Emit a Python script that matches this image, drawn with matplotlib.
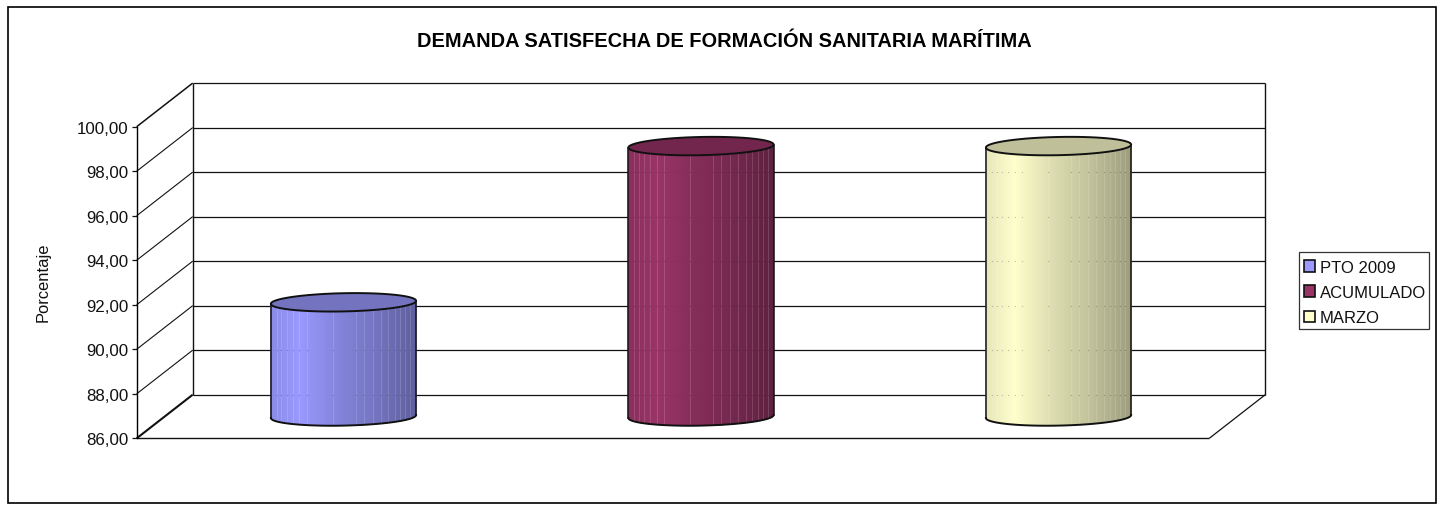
import numpy as np
import matplotlib
matplotlib.use("Agg")
import matplotlib.pyplot as plt
from matplotlib.collections import PolyCollection
from matplotlib.patches import Rectangle, Patch
from matplotlib.transforms import Affine2D

# ---- data ----
series = ["PTO 2009", "ACUMULADO", "MARZO"]
values = [91.13, 98.15, 98.15]
colors = ["#9999FF", "#993366", "#FFFFCC"]
yticks = [86, 88, 90, 92, 94, 96, 98, 100]
title = "DEMANDA SATISFECHA DE FORMACIÓN SANITARIA MARÍTIMA"
ylabel = "Porcentaje"

# ---- style / layout (pixels of the 1443x506 canvas, y from top) ----
W, H = 1443, 506
DPI = 100
FS = 12.2
plt.rcParams["font.family"] = ["Liberation Sans", "DejaVu Sans"]
fig = plt.figure(figsize=(W / DPI, H / DPI), dpi=DPI, facecolor="white")
px = Affine2D().scale(1 / W, -1 / H).translate(0, 1) + fig.transFigure

L, R, T, B = 136.7, 1209.3, 127.7, 439.3
ax = fig.add_axes([L / W, 1 - B / H, (R - L) / W, (B - T) / H])
ax.set_xlim(-0.5, 2.5)
ax.set_ylim(86, 100)
ax.patch.set_visible(False)
for s in ["top", "right", "bottom"]:
    ax.spines[s].set_visible(False)
ax.spines["left"].set_linewidth(1.0)
ax.spines["left"].set_zorder(6)

ppx = (R - L) / 3            # pixels per x unit
ppy = (B - T) / 14           # pixels per y unit
DX, DY = 56 / ppx, 43.6 / ppy  # depth of the 3-D box in data units


def proj(x, y, d=0.0):
    return np.asarray(x) + d * DX, np.asarray(y) + d * DY


def seg(p, q, lw=1.0, z=1):
    ax.plot([p[0], q[0]], [p[1], q[1]], color="#111111", lw=lw, clip_on=False,
            zorder=z, solid_capstyle="butt")


# walls, gridlines
x0, x1 = -0.5, 2.5
for v in yticks:
    seg(proj(x0, v, 1), proj(x1, v, 1), lw=0.9)
    if v != 86:
        seg(proj(x0, v, 0), proj(x0, v, 1), lw=0.8 if v != 100 else 1.1)
seg(proj(x0, 86, 0), proj(x0, 86, 1), lw=1.5)
seg(proj(x0, 86, 1), proj(x0, 100, 1), lw=1.0)
seg(proj(x1, 86, 1), proj(x1, 100, 1), lw=1.0)
seg(proj(x0, 86, 0), proj(x1, 86, 0), lw=1.0)
seg(proj(x1, 86, 0), proj(x1, 86, 1), lw=0.9)

# cylinders
half_w = 72.6 / ppx
half_h = 9.1 / ppy
tilt = 1.5 / ppy
seams = [0.04, 0.073, 0.11, 0.149, 0.197, 0.248, 0.427, 0.583, 0.638,
         0.70, 0.757, 0.81, 0.852, 0.891, 0.925, 0.959]


def shade(t):
    return np.interp(t, [0, 0.2, 0.45, 0.7, 1.0], [0.90, 1.0, 0.87, 0.77, 0.62])


for i, (val, col) in enumerate(zip(values, colors)):
    rgb = np.array(matplotlib.colors.to_rgb(col))
    xc, _ = proj(i, 0, 0.5)
    yb = 86 + 0.5 * DY
    yt = val + 0.5 * DY
    n = int(round(2 * half_w * ppx))
    edges = np.linspace(xc - half_w, xc + half_w, n + 1)
    polys, fc = [], []
    for k in range(n):
        xa, xb = edges[k], edges[k + 1]
        poly = []
        for x in (xa, xb):
            c = np.clip((x - xc) / half_w, -1, 1)
            poly.append((x, yb + tilt * c - half_h * np.sqrt(1 - c * c)))
        for x in (xb, xa):
            c = np.clip((x - xc) / half_w, -1, 1)
            poly.append((x, yt + tilt * c))
        polys.append(poly)
        fc.append(rgb * shade((k + 0.5) / n))
    ax.add_collection(PolyCollection(polys, facecolors=fc, edgecolors=fc, linewidths=0.6,
                                     clip_on=False, zorder=3))
    # light seams of the faceted body, with the gridline showing through them
    for s in seams:
        xs = xc - half_w + 2 * half_w * s
        c = (xs - xc) / half_w
        ybot = yb + tilt * c - half_h * np.sqrt(1 - c * c)
        ax.plot([xs, xs], [ybot, yt], color="white", alpha=0.16, lw=0.65, clip_on=False, zorder=3.5)
        for v in yticks:
            gy = v + DY
            if ybot < gy < yt - half_h:
                ax.plot([xs], [gy], marker="s", ms=0.8, mew=0, color="#111111", alpha=0.25,
                        clip_on=False, zorder=3.6)
    th = np.linspace(0, 2 * np.pi, 240)
    ex = xc + half_w * np.cos(th)
    ax.fill(ex, yt + half_h * np.sin(th) + tilt * np.cos(th), facecolor=rgb * 0.75,
            edgecolor="#111111", lw=1.4, clip_on=False, zorder=5)
    # outline of the visible body
    th2 = np.linspace(np.pi, 2 * np.pi, 120)
    bx = xc + half_w * np.cos(th2)
    by = yb + half_h * np.sin(th2) + tilt * np.cos(th2)
    ax.plot(bx, by, color="#111111", lw=1.4, clip_on=False, zorder=4)
    ax.plot([bx[0], bx[0]], [by[0], yt - tilt], color="#111111", lw=1.1, clip_on=False, zorder=4)
    ax.plot([bx[-1], bx[-1]], [by[-1], yt + tilt], color="#111111", lw=1.1, clip_on=False, zorder=4)

# axis
ax.set_xticks([])
ax.set_yticks(yticks)
ax.set_yticklabels([f"{v:.2f}".replace(".", ",") for v in yticks], fontsize=FS, color="#111111")
ax.tick_params(axis="y", length=3.6, width=0.9, pad=2.4, color="#111111")

# text
fig.text(724.5 / W, 1 - 41.5 / H, title, ha="center", va="center", fontsize=14.4,
         fontweight="bold", color="black")
fig.text(43 / W, 1 - 282.5 / H, ylabel, rotation=90, ha="center", va="center",
         fontsize=11.9, color="#111111")

# legend
handles = [Patch(facecolor=c, edgecolor="#111111", lw=1.2) for c in colors]
leg = fig.legend(handles, series, loc="upper left",
                 bbox_to_anchor=(1299 / W, 1 - 256 / H), bbox_transform=fig.transFigure,
                 fontsize=12.0, frameon=False, borderpad=0.28, labelspacing=0.62,
                 handlelength=0.68, handleheight=0.68, handletextpad=0.3, borderaxespad=0)
for t in leg.get_texts():
    t.set_color("#111111")
fig.add_artist(Rectangle((1299, 252.7), 130.3, 77.6, transform=px, fill=False,
                         edgecolor="#333333", lw=0.9))

# outer frame
fig.add_artist(Rectangle((7.5, 8), 1428.5, 496, transform=px, fill=False,
                         edgecolor="black", lw=1.2))

fig.savefig("out.png", dpi=DPI, facecolor="white")
